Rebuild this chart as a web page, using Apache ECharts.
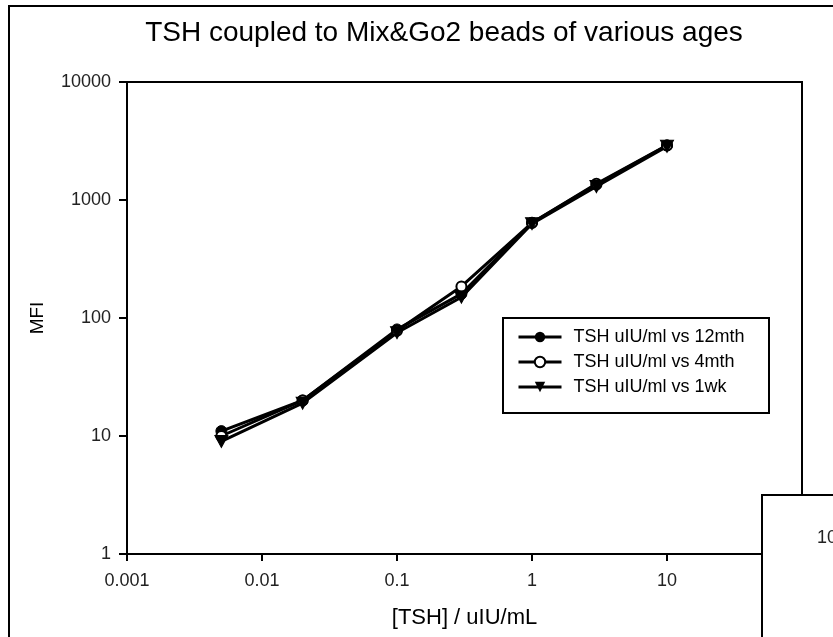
<!DOCTYPE html>
<html>
<head>
<meta charset="utf-8">
<script src="https://cdn.jsdelivr.net/npm/echarts@6/dist/echarts.min.js"></script>
<style>
html,body{margin:0;padding:0;background:#fff;}
#c{width:833px;height:637px;}
</style>
</head>
<body>
<div id="c"></div>
<script>
// Data
const concentrations = [0.005, 0.02, 0.1, 0.3, 1, 3, 10];
const mfi12mth = [11, 20, 80, 160, 640, 1350, 2900];
const mfi4mth  = [10, 20, 78, 185, 640, 1370, 2900];
const mfi1wk   = [9, 19, 75, 150, 630, 1300, 2850];
const seriesNames = ['TSH uIU/ml vs 12mth', 'TSH uIU/ml vs 4mth', 'TSH uIU/ml vs 1wk'];
const xTickLabels = ['0.001', '0.01', '0.1', '1', '10'];
const yTickLabels = ['1', '10', '100', '1000', '10000'];

const FONT = '"Liberation Sans", Arial, sans-serif';
const pairs = arr => concentrations.map((c, i) => [c, arr[i]]);

const chart = echarts.init(document.getElementById('c'), null, {renderer: 'canvas'});
const common = {
  type: 'line',
  lineStyle: {color: '#000', width: 3},
  symbolSize: 11,
  z: 3
};
chart.setOption({
  animation: false,
  backgroundColor: '#fff',
  title: {
    text: 'TSH coupled to Mix&Go2 beads of various ages',
    left: 439, top: 14, textAlign: 'center',
    textStyle: {fontFamily: FONT, fontSize: 28, fontWeight: 'normal', color: '#000'}
  },
  grid: {left: 127, top: 82, right: 31, bottom: 83, show: true, borderColor: '#000', borderWidth: 2},
  xAxis: {
    type: 'log', logBase: 10, min: 0.001, max: 100,
    name: '[TSH] / uIU/mL', nameLocation: 'middle', nameGap: 53,
    nameTextStyle: {fontFamily: FONT, fontSize: 22, color: '#000'},
    axisLine: {lineStyle: {color: '#000', width: 2}},
    axisTick: {inside: false, length: 7, lineStyle: {color: '#000', width: 2}},
    minorTick: {show: false},
    splitLine: {show: false},
    axisLabel: {
      fontFamily: FONT, fontSize: 18, color: '#222', margin: 18,
      formatter: v => { const s = xTickLabels.find(t => Math.abs(parseFloat(t) - v) / v < 1e-6); return s || ''; }
    }
  },
  yAxis: {
    type: 'log', logBase: 10, min: 1, max: 10000,
    name: 'MFI', nameLocation: 'middle', nameGap: 80, nameRotate: 90,
    nameTextStyle: {fontFamily: FONT, fontSize: 19, color: '#000'},
    axisLine: {lineStyle: {color: '#000', width: 2}},
    axisTick: {inside: false, length: 8, lineStyle: {color: '#000', width: 2}},
    splitLine: {show: false},
    axisLabel: {
      fontFamily: FONT, fontSize: 18, color: '#222', margin: 16,
      formatter: v => { const s = yTickLabels.find(t => Math.abs(parseFloat(t) - v) / v < 1e-6); return s || ''; }
    }
  },
  legend: {
    orient: 'vertical', left: 512, top: 323,
    itemWidth: 43, itemHeight: 13, itemGap: 7,
    lineStyle: {color: '#000', width: 3},
    textStyle: {fontFamily: FONT, fontSize: 18, color: '#000', padding: [0, 0, 0, 7]},
    data: seriesNames
  },
  graphic: [
    {type: 'rect', shape: {x: 9, y: 6, width: 900, height: 700}, style: {fill: 'none', stroke: '#000', lineWidth: 2}, z: 0, silent: true},
    {type: 'rect', shape: {x: 503, y: 318, width: 266, height: 95}, style: {fill: '#fff', stroke: '#000', lineWidth: 2}, z: 1, silent: true},
    {type: 'rect', shape: {x: 762, y: 495, width: 200, height: 200}, style: {fill: '#fff', stroke: '#000', lineWidth: 2}, z: 10, silent: true},
    {type: 'text', x: 817, y: 529, style: {text: '10000', fontFamily: FONT, fontSize: 18, fill: '#222'}, z: 11, silent: true}
  ],
  series: [
    Object.assign({}, common, {name: seriesNames[0], data: pairs(mfi12mth), symbol: 'circle',
      itemStyle: {color: '#000', borderColor: '#000'}}),
    Object.assign({}, common, {name: seriesNames[1], data: pairs(mfi4mth), symbol: 'circle', symbolSize: 10,
      itemStyle: {color: '#fff', borderColor: '#000', borderWidth: 2}}),
    Object.assign({}, common, {name: seriesNames[2], data: pairs(mfi1wk), symbol: 'path://M0,0 L10,0 L5,9 Z', symbolSize: [13, 12],
      itemStyle: {color: '#000', borderColor: '#000'}})
  ]
});
</script>
</body>
</html>
